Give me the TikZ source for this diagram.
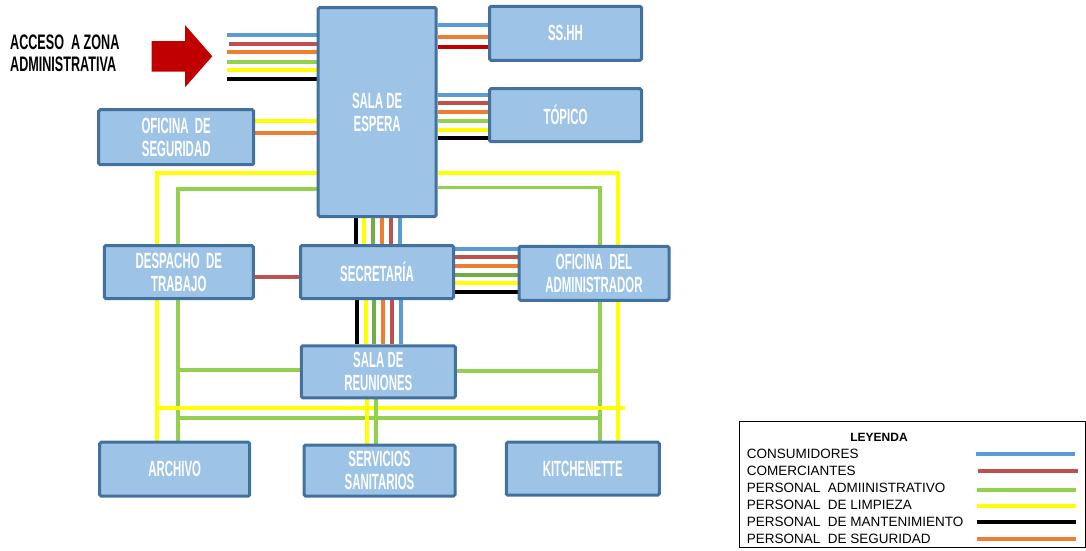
\documentclass[tikz,border=0pt]{standalone}
\usepackage{fontspec}
\setmainfont{Liberation Sans}
\newfontfamily\boxfont[FakeStretch=0.52]{Liberation Sans}
\newfontfamily\titlefont[FakeStretch=0.6]{Liberation Sans}
\usetikzlibrary{calc,backgrounds}
\definecolor{BoxFill}{HTML}{9DC3E6}
\definecolor{BoxLine}{HTML}{41719C}
\definecolor{Consumidor}{HTML}{5B9BD5}
\definecolor{Comerciante}{HTML}{C0504D}
\definecolor{Administrativo}{HTML}{92D050}
\definecolor{AdminDark}{HTML}{70AD47}
\definecolor{Limpieza}{HTML}{FFFF00}
\definecolor{Mantenimiento}{HTML}{000000}
\definecolor{Seguridad}{HTML}{ED7D31}
\definecolor{DarkRed}{HTML}{C00000}

\begin{document}
\begin{tikzpicture}[x=1pt, y=-1pt,
    area/.style={draw=BoxLine, fill=BoxFill, line width=3pt, rounded corners=1.5pt,
      text=white, align=center, inner sep=0pt,
      font=\boxfont\bfseries\fontsize{22}{23}\selectfont},
    via/.style={line width=3.8pt},
    legtext/.style={anchor=west, inner sep=0pt, font=\fontsize{13.5}{14}\selectfont}]
    \useasboundingbox (0,0) rectangle (1086,550);

    % rooms
    \node[area, minimum width=118pt, minimum height=209pt] (espera) at (377.2,112) {SALA DE\\ESPERA};
    \node[area, minimum width=152pt, minimum height=54pt] (sshh) at (565.5,33.3) {SS.HH};
    \node[area, minimum width=152pt, minimum height=53pt] (topico) at (565.5,115.2) {TÓPICO};
    \node[area, minimum width=155pt, minimum height=55pt] (seguridad) at (176.2,137.2) {OFICINA~~DE\\SEGURIDAD};
    \node[area, minimum width=149pt, minimum height=53pt] (despacho) at (178.8,272) {DESPACHO~~DE\\TRABAJO};
    \node[area, minimum width=153pt, minimum height=53pt] (secretaria) at (377,272) {SECRETARÍA};
    \node[area, minimum width=150pt, minimum height=54pt] (admin) at (594,273.3) {OFICINA~~DEL\\ADMINISTRADOR};
    \node[area, minimum width=154pt, minimum height=52pt] (reuniones) at (378.3,371.8) {SALA DE\\REUNIONES};
    \node[area, minimum width=150pt, minimum height=54pt] (archivo) at (174.7,469.2) {ARCHIVO};
    \node[area, minimum width=151pt, minimum height=51pt] (servicios) at (379.5,470.5) {SERVICIOS\\SANITARIOS};
    \node[area, minimum width=153pt, minimum height=53pt] (kitchen) at (582.8,468.7) {KITCHENETTE};

    % entrance
    \node[anchor=west, inner sep=0pt, align=left, font=\titlefont\bfseries\fontsize{21}{21.6}\selectfont] (acceso) at (10,53.5) {ACCESO~~A ZONA\\ADMINISTRATIVA};
    \fill[DarkRed] (151.7,41) -- (185,41) -- (185,25) -- (212.3,56.3) -- (185,87.3) -- (185,71.7) -- (151.7,71.7) -- cycle;
    \coordinate (entrada) at (227,56);

    \begin{scope}[on background layer]
    % entrance bundle
    \draw[via, Consumidor] (entrada |- 0,35) -- (espera.west |- 0,35);
    \draw[via, Comerciante] ([xshift=2pt]entrada |- 0,43.7) -- (espera.west |- 0,43.7);
    \draw[via, Seguridad] (entrada |- 0,52.3) -- (espera.west |- 0,52.3);
    \draw[via, Administrativo] (entrada |- 0,61.7) -- (espera.west |- 0,61.7);
    \draw[via, Limpieza] (entrada |- 0,70.3) -- (espera.west |- 0,70.3);
    \draw[via, Mantenimiento] (entrada |- 0,79) -- (espera.west |- 0,79);

    % espera - ss.hh
    \draw[via, Consumidor] (espera.east |- 0,24.7) -- (sshh.west |- 0,24.7);
    \draw[via, Seguridad] (espera.east |- 0,36.7) -- (sshh.west |- 0,36.7);
    \draw[via, DarkRed] (espera.east |- 0,47.3) -- (sshh.west |- 0,47.3);

    % espera - topico
    \draw[via, Consumidor] (espera.east |- 0,95) -- (topico.west |- 0,95);
    \draw[via, Comerciante] (espera.east |- 0,103.3) -- (topico.west |- 0,103.3);
    \draw[via, Seguridad] (espera.east |- 0,112) -- (topico.west |- 0,112);
    \draw[via, Administrativo] (espera.east |- 0,121.3) -- (topico.west |- 0,121.3);
    \draw[via, Limpieza] (espera.east |- 0,130) -- (topico.west |- 0,130);
    \draw[via, Mantenimiento] (espera.east |- 0,137.7) -- (topico.west |- 0,137.7);

    % seguridad - espera
    \draw[via, Limpieza] (seguridad.east |- 0,121) -- (espera.west |- 0,121);
    \draw[via, Seguridad] (seguridad.east |- 0,132.7) -- (espera.west |- 0,132.7);

    % espera - secretaria
    \draw[via, Mantenimiento] (espera.south -| 356,0) -- (secretaria.north -| 356,0);
    \draw[via, Limpieza] (espera.south -| 364.3,0) -- (secretaria.north -| 364.3,0);
    \draw[via, AdminDark] (espera.south -| 372.7,0) -- (secretaria.north -| 372.7,0);
    \draw[via, Seguridad] (espera.south -| 382.3,0) -- (secretaria.north -| 382.3,0);
    \draw[via, Comerciante] (espera.south -| 391,0) -- (secretaria.north -| 391,0);
    \draw[via, Consumidor] (espera.south -| 400,0) -- (secretaria.north -| 400,0);

    % secretaria - reuniones
    \draw[via, Mantenimiento] (secretaria.south -| 356.7,0) -- (reuniones.north -| 356.7,0);
    \draw[via, Limpieza] (secretaria.south -| 366,0) -- (reuniones.north -| 366,0);
    \draw[via, AdminDark] (secretaria.south -| 374,0) -- (reuniones.north -| 374,0);
    \draw[via, Seguridad] (secretaria.south -| 383.3,0) -- (reuniones.north -| 383.3,0);
    \draw[via, Comerciante] (secretaria.south -| 391.7,0) -- (reuniones.north -| 391.7,0);
    \draw[via, Consumidor] (secretaria.south -| 400.7,0) -- (reuniones.north -| 400.7,0);

    % secretaria - admin
    \draw[via, Consumidor] (secretaria.east |- 0,249) -- (admin.west |- 0,249);
    \draw[via, Comerciante] (secretaria.east |- 0,257.3) -- (admin.west |- 0,257.3);
    \draw[via, Seguridad] (secretaria.east |- 0,265.7) -- (admin.west |- 0,265.7);
    \draw[via, AdminDark] (secretaria.east |- 0,275) -- (admin.west |- 0,275);
    \draw[via, Limpieza] (secretaria.east |- 0,283.3) -- (admin.west |- 0,283.3);
    \draw[via, Mantenimiento] (secretaria.east |- 0,292.3) -- (admin.west |- 0,292.3);

    % despacho - secretaria
    \draw[via, Comerciante] (despacho.east |- 0,276.7) -- (secretaria.west |- 0,276.7);

    % outer rings
    \draw[via, Limpieza] (espera.west |- 0,173.3) -| (archivo.north -| 157,0);
    \draw[via, Limpieza] (espera.east |- 0,173.3) -| (kitchen.north -| 618,0);
    \draw[via, Administrativo] (espera.west |- 0,189.3) -| (archivo.north -| 178,0);
    \draw[via, Administrativo] (espera.east |- 0,187.5) -| (kitchen.north -| 600,0);
    \draw[via, Administrativo] (reuniones.west |- 0,370) -- (178,370);
    \draw[via, Administrativo] (reuniones.east |- 0,370.7) -- (600,370.7);
    \draw[via, Limpieza] (157,407.7) -- (625,407.7);
    \draw[via, Administrativo] (178,418.3) -- (600,418.3);

    % reuniones - servicios
    \draw[via, Limpieza] (reuniones.south -| 367,0) -- (servicios.north -| 367,0);
    \draw[via, Administrativo] (reuniones.south -| 376,0) -- (servicios.north -| 376,0);
    \end{scope}

    % legend
    \draw[line width=1pt] (739.3,421.7) rectangle (1085.5,547.7);
    \node[inner sep=0pt, font=\bfseries\fontsize{12}{12}\selectfont] (leyenda) at (879,437.7) {LEYENDA};
    \node[legtext] (l1) at (746.7,454.3) {CONSUMIDORES};
    \node[legtext] (l2) at (746.7,471) {COMERCIANTES};
    \node[legtext] (l3) at (746.7,487.7) {PERSONAL~ ADMIINISTRATIVO};
    \node[legtext] (l4) at (746.7,505) {PERSONAL~ DE LIMPIEZA};
    \node[legtext] (l5) at (746.7,521.7) {PERSONAL~ DE MANTENIMIENTO};
    \node[legtext] (l6) at (746.7,539) {PERSONAL~ DE SEGURIDAD};
    \draw[line width=3.8pt, Consumidor] (976,454.3) -- (1075,454.3);
    \draw[line width=3.8pt, Comerciante] (978,471) -- (1077.7,471);
    \draw[line width=3.8pt, Administrativo] (976.5,490) -- (1076,490);
    \draw[line width=3.8pt, Limpieza] (976.5,506) -- (1076,506);
    \draw[line width=3.8pt, Mantenimiento] (976.5,522) -- (1076,522);
    \draw[line width=3.8pt, Seguridad] (976.5,539) -- (1076,539);
  \end{tikzpicture}
\end{document}
